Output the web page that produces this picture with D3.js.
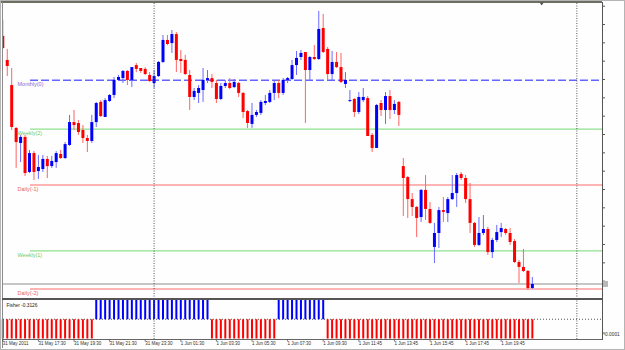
<!DOCTYPE html>
<html><head><meta charset="utf-8">
<script src="https://cdn.jsdelivr.net/npm/d3@7"></script>
<style>html,body{margin:0;padding:0;background:#fff;} svg{display:block;}</style>
</head><body><svg id="c" width="625" height="350"></svg>
<script>
// ---- DATA (15-minute bars, 31 May 15:30 .. 1 Jun 20:30) ----
const openP = [1.43935,1.43804,1.43667,1.43433,1.43351,1.43384,1.43193,1.43296,1.43198,1.43209,
1.43264,1.43225,1.43247,1.43291,1.43269,1.43340,1.43465,1.43460,1.43422,1.43378,
1.43362,1.43465,1.43575,1.43493,1.43580,1.43613,1.43695,1.43705,1.43744,1.43695,
1.43776,1.43760,1.43755,1.43722,1.43678,1.43716,1.43793,1.43913,1.43896,1.43945,
1.43809,1.43804,1.43722,1.43602,1.43624,1.43640,1.43695,1.43705,1.43678,1.43591,
1.43662,1.43678,1.43656,1.43678,1.43624,1.43525,1.43455,1.43504,1.43515,1.43569,
1.43575,1.43624,1.43678,1.43624,1.43695,1.43700,1.43776,1.43820,1.43847,1.43749,
1.43820,1.43809,1.43978,1.43864,1.43727,1.43793,1.43765,1.43673,1.43580,1.43591,
1.43520,1.43585,1.43596,1.43395,1.43324,1.43569,1.43531,1.43607,1.43531,1.43575,
1.43225,1.43165,1.43045,1.43002,1.42947,1.43095,1.42991,1.42784,1.42860,1.42985,
1.42969,1.43045,1.43078,1.43182,1.43160,1.43045,1.42915,1.42795,1.42860,1.42882,
1.42756,1.42822,1.42865,1.42882,1.42860,1.42816,1.42702,1.42675,1.42653,1.42560];
const highP = [1.44022,1.43864,1.43760,1.43438,1.43395,1.43395,1.43313,1.43307,1.43285,1.43285,
1.43280,1.43280,1.43307,1.43313,1.43356,1.43504,1.43531,1.43476,1.43449,1.43395,
1.43504,1.43575,1.43585,1.43596,1.43618,1.43711,1.43722,1.43749,1.43749,1.43765,
1.43787,1.43760,1.43765,1.43738,1.43749,1.43798,1.43940,1.43940,1.43967,1.43956,
1.43858,1.43831,1.43749,1.43651,1.43667,1.43760,1.43749,1.43727,1.43695,1.43678,
1.43695,1.43705,1.43700,1.43684,1.43629,1.43531,1.43569,1.43531,1.43585,1.43613,
1.43640,1.43695,1.43695,1.43705,1.43711,1.43804,1.43853,1.43858,1.43847,1.43825,
1.43885,1.44071,1.44055,1.43875,1.43853,1.43847,1.43842,1.43738,1.43640,1.43596,
1.43629,1.43651,1.43607,1.43405,1.43564,1.43585,1.43629,1.43640,1.43585,1.43580,
1.43269,1.43171,1.43078,1.43007,1.43100,1.43176,1.43029,1.42915,1.43002,1.43056,
1.43056,1.43176,1.43187,1.43193,1.43176,1.43133,1.42920,1.42947,1.42958,1.42893,
1.42833,1.42904,1.42915,1.42887,1.42887,1.42827,1.42713,1.42773,1.42658,1.42620];
const lowP = [1.43864,1.43716,1.43422,1.43215,1.43247,1.43171,1.43187,1.43149,1.43155,1.43193,
1.43160,1.43215,1.43215,1.43264,1.43264,1.43335,1.43422,1.43395,1.43351,1.43302,
1.43351,1.43438,1.43493,1.43493,1.43575,1.43596,1.43689,1.43678,1.43667,1.43656,
1.43738,1.43733,1.43722,1.43684,1.43651,1.43711,1.43787,1.43885,1.43842,1.43738,
1.43733,1.43722,1.43531,1.43585,1.43569,1.43575,1.43678,1.43651,1.43569,1.43585,
1.43651,1.43645,1.43651,1.43602,1.43487,1.43433,1.43433,1.43493,1.43504,1.43558,
1.43569,1.43585,1.43596,1.43613,1.43678,1.43695,1.43722,1.43804,1.43460,1.43695,
1.43804,1.43804,1.43842,1.43695,1.43689,1.43760,1.43678,1.43651,1.43575,1.43493,
1.43509,1.43575,1.43389,1.43302,1.43324,1.43498,1.43455,1.43482,1.43509,1.43444,
1.42953,1.42942,1.42953,1.42838,1.42920,1.42931,1.42909,1.42696,1.42778,1.42920,
1.42920,1.43040,1.43002,1.43149,1.43024,1.42860,1.42784,1.42789,1.42849,1.42740,
1.42724,1.42811,1.42838,1.42849,1.42795,1.42696,1.42587,1.42647,1.42549,1.42555];
const closeP = [1.43869,1.43771,1.43438,1.43356,1.43384,1.43187,1.43296,1.43193,1.43220,1.43264,
1.43225,1.43253,1.43296,1.43269,1.43345,1.43465,1.43449,1.43411,1.43378,1.43362,
1.43465,1.43569,1.43498,1.43585,1.43613,1.43695,1.43711,1.43744,1.43695,1.43765,
1.43755,1.43744,1.43727,1.43689,1.43716,1.43793,1.43913,1.43891,1.43945,1.43804,
1.43798,1.43727,1.43602,1.43635,1.43651,1.43695,1.43705,1.43684,1.43591,1.43662,
1.43678,1.43651,1.43684,1.43624,1.43520,1.43460,1.43504,1.43520,1.43575,1.43580,
1.43624,1.43678,1.43624,1.43695,1.43705,1.43776,1.43815,1.43842,1.43749,1.43820,
1.43809,1.43973,1.43847,1.43727,1.43793,1.43765,1.43684,1.43695,1.43585,1.43520,
1.43602,1.43602,1.43389,1.43324,1.43558,1.43531,1.43607,1.43531,1.43564,1.43504,
1.43160,1.43045,1.43002,1.42942,1.43095,1.42991,1.42915,1.42860,1.42985,1.42975,
1.43045,1.43078,1.43176,1.43160,1.43045,1.42915,1.42795,1.42860,1.42882,1.42756,
1.42822,1.42865,1.42887,1.42860,1.42811,1.42702,1.42675,1.42653,1.42560,1.42582];
// Fisher histogram (values clipped to the panel range)
const fisher = [-1,-1,-1,-1,-1,-1,-1,-1,-1,-1,-1,-1,-1,-1,-1,-1,-1,-1,-1,-1,
-1,1,1,1,1,1,1,1,1,1,1,1,1,1,1,1,1,1,1,1,
1,1,1,1,1,1,1,-1,-1,-1,-1,-1,-1,-1,-1,-1,-1,-1,-1,-1,
-1,-1,1,1,1,1,1,1,1,1,1,1,1,-1,-1,-1,-1,-1,-1,-1,
-1,-1,-1,-1,-1,-1,-1,-1,-1,-1,-1,-1,-1,-1,-1,-1,-1,-1,-1,-1,
-1,-1,-1,-1,-1,-1,-1,-1,-1,-1,-1,-1,-1,-1,-1,-1,-1,-1,-1,-1];
const fisherLabel = "Fisher -0.3126";
const levelNames = ["Monthly(0)","Weekly(2)","Daily(-1)","Weekly(1)","Daily(-2)"];
const levelPrices = [1.43693,1.43427,1.43122,1.42762,1.42555];
const timeLabels = ["31 May 2011","31 May 17:30","31 May 19:30","31 May 21:30","31 May 23:30",
"1 Jun 01:30","1 Jun 03:30","1 Jun 05:30","1 Jun 07:30","1 Jun 09:30",
"1 Jun 11:45","1 Jun 13:45","1 Jun 15:45","1 Jun 17:45","1 Jun 19:45"];
const timeLabelBars = [0,8,16,24,32,40,48,56,64,72,80,88,96,104,112];
const daySeparatorBars = [34,129];
const priceTicks = [1.441,1.440,1.439,1.438,1.437,1.436,1.435,1.434,1.433,1.432,1.431,1.430,1.429,1.428,1.427,1.426];
const subAxisLabel = "-0.0001";

// ---- STYLE ----
const levelStyle = {
  "Monthly(0)": {stroke:"#6464ff", width:1.6, dash:"8,3", text:"#8a66dc"},
  "Weekly(2)":  {stroke:"#8fe08f", width:1.2, dash:null, text:"#6fcc6f"},
  "Daily(-1)":  {stroke:"#ffb4b4", width:2,   dash:null, text:"#f06060"},
  "Weekly(1)":  {stroke:"#8fe08f", width:1.2, dash:null, text:"#6fcc6f"},
  "Daily(-2)":  {stroke:"#ffb4b4", width:2,   dash:null, text:"#f06060"}
};
const W = 625, H = 350;
const plotL = 3, plotR = 602, mainT = 3, mainB = 297.5, subT = 300, subB = 339;
const FONT = "'Liberation Sans', Arial, sans-serif";

const svg = d3.select("#c");
svg.append("rect").attr("width", W).attr("height", H).attr("fill", "#fdfefd");

const x = d3.scaleLinear().domain([0, 119]).range([2.8, 2.8 + 4.45 * 119]);
const y = d3.scaleLinear().domain([1.440, 1.426]).range([24, 24 + 14 * 18.333]);
const fy = d3.scaleLinear().domain([-1, 1]).range([338.5, 300]);

// main clip
svg.append("clipPath").attr("id", "mainclip").append("rect")
  .attr("x", plotL).attr("y", mainT).attr("width", plotR - plotL).attr("height", mainB - mainT);
const main = svg.append("g").attr("clip-path", "url(#mainclip)");

// bid line
const lastClose = closeP[closeP.length - 1];
main.append("line").attr("x1", plotL).attr("x2", plotR)
  .attr("y1", y(lastClose)).attr("y2", y(lastClose))
  .attr("stroke", "#c6c6c6").attr("stroke-width", 2);

// level lines + labels
levelNames.forEach((n, k) => {
  const s = levelStyle[n];
  const yy = y(levelPrices[k]);
  const ln = main.append("line").attr("x1", 30).attr("x2", plotR)
    .attr("y1", yy).attr("y2", yy)
    .attr("stroke", s.stroke).attr("stroke-width", s.width);
  if (s.dash) ln.attr("stroke-dasharray", s.dash);
  main.append("text").attr("x", 17.5).attr("y", yy + 6)
    .attr("font-family", FONT).attr("font-size", 5.5).attr("fill", s.text).text(n);
});

// candles
const idx = d3.range(openP.length);
const cg = main.append("g");
cg.selectAll("line.wick").data(idx).join("line").attr("class", "wick")
  .attr("x1", i => x(i)).attr("x2", i => x(i))
  .attr("y1", i => y(highP[i])).attr("y2", i => y(lowP[i]))
  .attr("stroke", i => closeP[i] > openP[i] ? "#6b6bff" : "#ff6464")
  .attr("stroke-width", 1);
cg.selectAll("rect.body").data(idx).join("rect").attr("class", "body")
  .attr("x", i => x(i) - 1.5).attr("width", 3)
  .attr("y", i => y(Math.max(openP[i], closeP[i])))
  .attr("height", i => Math.max(1, Math.abs(y(openP[i]) - y(closeP[i]))))
  .attr("fill", i => closeP[i] > openP[i] ? "#0000ff" : "#ff0000");

// sub panel: zero level + bars
svg.append("line").attr("x1", plotL).attr("x2", plotR)
  .attr("y1", fy(0)).attr("y2", fy(0))
  .attr("stroke", "#555").attr("stroke-width", 1).attr("stroke-dasharray", "1,2");
svg.append("g").selectAll("line").data(idx).join("line")
  .attr("x1", i => x(i)).attr("x2", i => x(i))
  .attr("y1", fy(0)).attr("y2", i => fy(fisher[i]))
  .attr("stroke", i => fisher[i] > 0 ? "#0000ff" : "#ff0000")
  .attr("stroke-width", 2);
svg.append("text").attr("x", 6.5).attr("y", 307).attr("font-family", FONT)
  .attr("font-size", 4.8).attr("fill", "#202020").text(fisherLabel);

// day separators
daySeparatorBars.forEach(b => {
  svg.append("line").attr("x1", x(b)).attr("x2", x(b)).attr("y1", mainT).attr("y2", subB)
    .attr("stroke", "#555").attr("stroke-width", 1).attr("stroke-dasharray", "1,1.5");
});

// frames
const fr = svg.append("g").attr("shape-rendering", "crispEdges");
fr.append("rect").attr("x", 0.5).attr("y", 0.5).attr("width", W - 1).attr("height", H - 1)
  .attr("fill", "none").attr("stroke", "#b4b4b4");
fr.append("line").attr("x1", 1).attr("x2", plotR).attr("y1", 2).attr("y2", 2).attr("stroke", "#6e6e60").attr("stroke-width", 1.5);
fr.append("line").attr("x1", 2).attr("x2", 2).attr("y1", 2).attr("y2", 348).attr("stroke", "#8a8a8a").attr("stroke-width", 1);
fr.append("line").attr("x1", plotR).attr("x2", plotR).attr("y1", 2).attr("y2", subB + 0.5).attr("stroke", "#555").attr("stroke-width", 1);
fr.append("line").attr("x1", 2).attr("x2", plotR).attr("y1", 298.75).attr("y2", 298.75).attr("stroke", "#555").attr("stroke-width", 2);
fr.append("line").attr("x1", 2).attr("x2", plotR).attr("y1", subB + 0.5).attr("y2", subB + 0.5).attr("stroke", "#666").attr("stroke-width", 1);

// right price axis ticks (labels are outside of the picture)
const ax = svg.append("g").attr("transform", `translate(${plotR},0)`)
  .call(d3.axisRight(y).tickValues(priceTicks).tickSize(3).tickFormat(""));
ax.select(".domain").remove();
ax.selectAll("line").attr("stroke", "#555");
// bid price marker
svg.append("rect").attr("x", plotR + 1).attr("y", y(lastClose) - 3).attr("width", 5).attr("height", 6).attr("fill", "#b8b8b8");
// chart shift marker
const sx = x(121.1);
svg.append("path").attr("d", `M${sx - 2},2.5L${sx + 2},2.5L${sx},5.5Z`).attr("fill", "#505050");

// sub axis label
svg.append("line").attr("x1", plotR).attr("x2", plotR + 3).attr("y1", 333).attr("y2", 333).attr("stroke", "#555");
svg.append("text").attr("x", 603.5).attr("y", 335.5).attr("font-family", FONT)
  .attr("font-size", 4.8).attr("fill", "#303030").text(subAxisLabel);

// time axis
timeLabels.forEach((t, k) => {
  const xx = x(timeLabelBars[k]);
  svg.append("line").attr("x1", xx).attr("x2", xx).attr("y1", subB + 0.5).attr("y2", subB + 2.5)
    .attr("stroke", "#555").attr("stroke-width", 0.8);
  svg.append("text").attr("x", xx).attr("y", 345.3).attr("font-family", FONT)
    .attr("font-size", 4.5).attr("fill", "#303030").text(t);
});
</script></body></html>
